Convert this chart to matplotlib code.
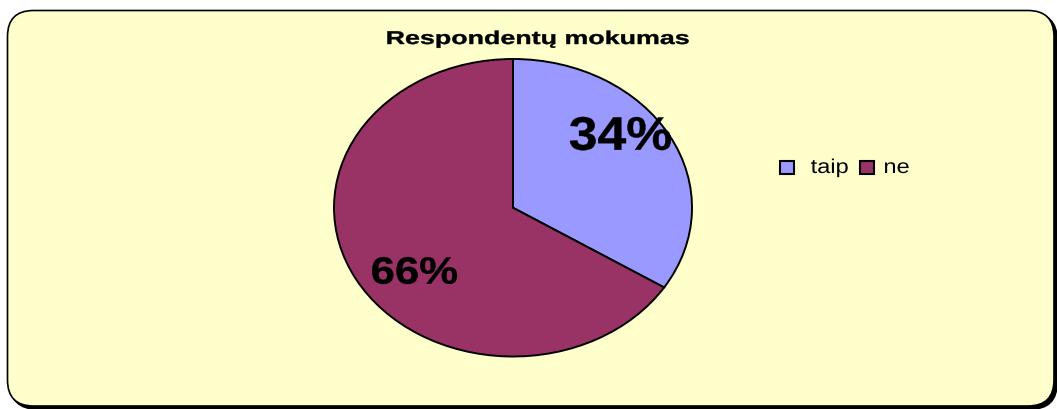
import matplotlib.pyplot as plt
from matplotlib.patches import FancyBboxPatch, PathPatch, Rectangle
from matplotlib.textpath import TextPath
from matplotlib.font_manager import FontProperties
from matplotlib.transforms import IdentityTransform, Affine2D

# answer shares
labels = ["taip", "ne"]
shares = [34, 66]
colors = ["#9999FF", "#993366"]
title = "Respondentų mokumas"

plt.rcParams["font.family"] = ["Liberation Sans", "DejaVu Sans"]

W, H = 1057, 409
fig = plt.figure(figsize=(W / 100, H / 100), dpi=100)
fig.patch.set_facecolor("white")
PX = IdentityTransform()


def wide_text(s, x, y, size, sx=1.0, bold=False, ha="center"):
    """Text drawn as a path, widened by sx; (x, y) is baseline in pixels."""
    prop = FontProperties(family="Liberation Sans",
                          weight="bold" if bold else "normal")
    tp = TextPath((0, 0), s, size=size, prop=prop)
    ext = tp.get_extents()
    w = ext.width * sx
    x0 = x - w / 2 if ha == "center" else x
    tr = Affine2D().translate(-ext.x0, 0).scale(sx, 1).translate(x0, y)
    fig.patches.append(PathPatch(tr.transform_path(tp), transform=PX,
                                 facecolor="black", edgecolor="black",
                                 linewidth=0.3 if bold else 0, zorder=5))


# rounded chart frame with a drop shadow (pixel coords)
x0, x1 = 7.5, 1054
top, bot = H - 10.5, H - 406
for off, fc, z in [(3, "black", -2), (0, "#FFFFCC", -1)]:
    fig.patches.append(FancyBboxPatch(
        (x0 + off, bot - off), x1 - x0, top - bot,
        boxstyle="round,pad=0,rounding_size=26", transform=PX,
        facecolor=fc, edgecolor="black", linewidth=1.2, zorder=z))

wide_text(title, 538, H - 44, 18.5, sx=1.45, bold=True)

# pie axes stretched so the pie comes out slightly oval
ax = fig.add_axes([334 / W, 1 - 356.5 / H, 358 / W, 297.5 / H])
ax.pie(shares, colors=colors, startangle=90, counterclock=False,
       wedgeprops=dict(edgecolor="black", linewidth=1.4))
ax.set_aspect("auto")
ax.set_xlim(-1, 1)
ax.set_ylim(-1, 1)
ax.patch.set_alpha(0)

# value labels: (centre x, baseline y) in pie data units
label_pos = [(0.60, 0.39), (-0.55, -0.51)]
label_size = [47, 38]
label_sx = [1.1, 1.15]
for val, pos, fs, sx in zip(shares, label_pos, label_size, label_sx):
    px, py = ax.transData.transform(pos)
    wide_text(f"{val}%", px, py, fs, sx=sx, bold=True)

# legend: swatch + label, laid out left to right
legend_x = [780, 860]
for name, c, lx in zip(labels, colors, legend_x):
    fig.patches.append(Rectangle((lx, H - 173.5), 14, 13, transform=PX,
                                 facecolor=c, edgecolor="black",
                                 linewidth=1.5, zorder=5))
    wide_text(name, lx + 31 if name == "taip" else lx + 25, H - 173,
              20, sx=1.18, ha="left")

fig.savefig("out.png", dpi=100)
